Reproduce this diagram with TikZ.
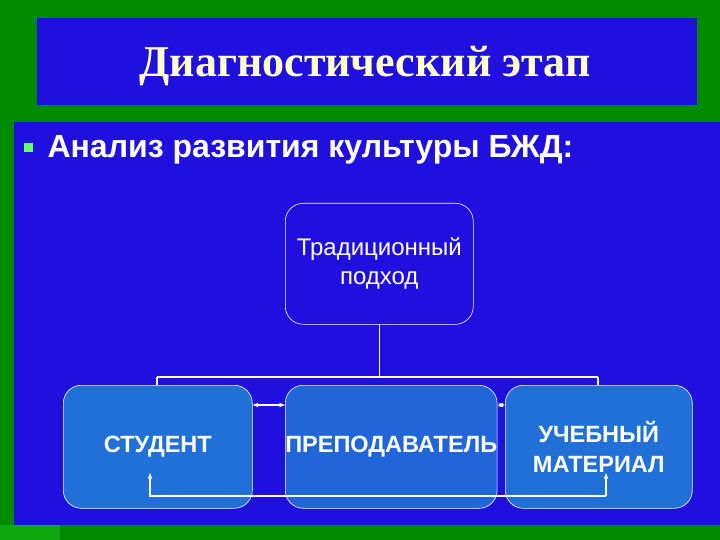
\documentclass[tikz,border=0pt]{standalone}
\usepackage{fontspec}
\usetikzlibrary{arrows.meta}
\setmainfont{Liberation Sans}
\newfontfamily\serifb{Liberation Serif}
\definecolor{bgreen}{HTML}{008A00}
\definecolor{lgreen}{HTML}{10A810}
\definecolor{dblue}{HTML}{2010E0}
\definecolor{lblue}{HTML}{2070D8}
\definecolor{ttl}{HTML}{FFFFCC}
\begin{document}
\begin{tikzpicture}[x=1pt,y=-1pt,
  box/.style={draw=white,line width=0.6pt,rounded corners=18pt,minimum width=188pt,minimum height=123pt,anchor=north west,align=center,text=white,inner sep=0pt,font=\bfseries\fontsize{23.5}{30}\selectfont},
  conn/.style={white,line width=1.6pt},
  arr/.style={white,line width=1.6pt,{Stealth[length=6pt]}-{Stealth[length=6pt]}}]
\fill[bgreen] (0,0) rectangle (720,540);
\fill[lgreen] (0,525) rectangle (60,540);
\fill[dblue] (37,18) rectangle (697,105);
\fill[dblue] (14,122) rectangle (720,525);
\node[font=\serifb\bfseries\fontsize{44}{48}\selectfont,text=ttl] (title) at (365,66) {Диагностический этап};
\fill[green!60!white] (24,143) rectangle (33,152);
\node[anchor=west,font=\bfseries\fontsize{32}{36}\selectfont,text=white] (sub) at (44,150) {Анализ развития культуры БЖД:};
\node[box,fill=dblue,font=\fontsize{24}{29}\selectfont,minimum height=121pt] (top) at (285,203) {Традиционный\\подход};
\coordinate (j) at (top.south|-0,377);
\coordinate (jl) at (157,377);
\coordinate (jr) at (598,377);
\draw[conn] (top.south) -- (j);
\draw[conn] (jl) -- (jr);
\draw[conn] (jl) -- (157,385);
\draw[conn] (jr) -- (598,385);
\node[box,fill=lblue,minimum width=189pt] (st) at (63,385) {СТУДЕНТ};
\node[box,fill=lblue,fill opacity=0.9,text opacity=1,minimum width=187pt] (pr) at (285,385) {ПРЕПОДАВАТЕЛЬ};
\node[box,fill=lblue,minimum width=187pt] (um) at (505,385) {УЧЕБНЫЙ\\МАТЕРИАЛ};
\draw[arr] (st.east|-0,405) -- (pr.west|-0,405);
\draw[arr] (pr.east|-0,405) -- (um.west|-0,405);
\coordinate (a1) at (150,496);
\coordinate (a2) at (606,496);
\draw[conn,line width=1.2pt,-{Stealth[length=6pt]}] (a2) -- (a1) -- (150,473);
\draw[conn,line width=1.2pt,-{Stealth[length=6pt]}] (a2) -- (606,473);
\end{tikzpicture}
\end{document}
